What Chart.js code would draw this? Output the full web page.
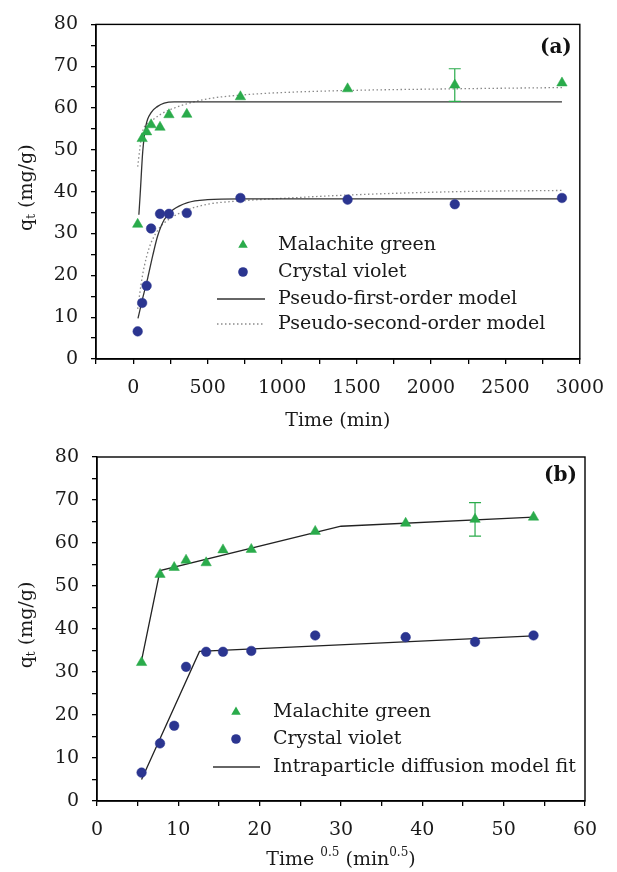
<!DOCTYPE html>
<html>
<head>
<meta charset="utf-8">
<script src="https://cdn.jsdelivr.net/npm/chart.js@4.4.1/dist/chart.umd.min.js"></script>
<style>
  html, body { margin: 0; padding: 0; background: #fff; }
  .wrap { position: absolute; left: 0; width: 617px; }
  #wrapA { top: 0; height: 430px; }
  #wrapB { top: 430px; height: 442px; }
</style>
</head>
<body>
<div class="wrap" id="wrapA"><canvas id="chartA"></canvas></div>
<div class="wrap" id="wrapB"><canvas id="chartB"></canvas></div>
<script>
const timeMin = [30, 60, 90, 120, 180, 240, 360, 720, 1440, 2160, 2880];
const timeSqrt = [5.48, 7.75, 9.49, 10.95, 13.42, 15.49, 18.97, 26.83, 37.95, 46.48, 53.67];
const mgQt = [32.2, 52.7, 54.3, 56.0, 55.4, 58.4, 58.5, 62.7, 64.6, 65.5, 66.0];
const cvQt = [6.6, 13.4, 17.5, 31.2, 34.7, 34.7, 34.9, 38.5, 38.1, 37.0, 38.5];
const mgErr = [0, 0, 0, 0, 0, 0, 0, 0, 0, 3.9, 0];

// model curves (a)
const pfoMgT = [38, 47, 64, 86, 120, 164, 208, 275, 400, 2880];
const pfoMgQ = [34.5, 39.5, 49.6, 55.9, 58.9, 60.4, 61.2, 61.5, 61.5, 61.5];
const psoMgT = [30, 60, 120, 180, 240, 360, 500, 720, 1000, 1440, 2160, 2880];
const psoMgQ = [46.0, 54.0, 56.8, 58.4, 59.5, 61.0, 62.2, 63.1, 63.7, 64.2, 64.6, 64.9];
const pfoCvT = [32, 64, 97, 131, 164, 208, 265, 365, 499, 722, 2880];
const pfoCvQ = [9.7, 14.6, 19.3, 24.7, 29.4, 33.3, 35.6, 37.4, 38.1, 38.3, 38.3];
const psoCvT = [30, 60, 90, 120, 180, 240, 360, 500, 720, 1000, 1440, 2160, 2880];
const psoCvQ = [12.0, 19.5, 24.5, 27.8, 31.5, 33.4, 35.6, 37.0, 37.8, 38.4, 39.2, 40.0, 40.3];

// intraparticle diffusion fit (b)
const ipdMgX = [5.48, 7.75, 30.0, 53.67];
const ipdMgY = [32.7, 53.6, 63.9, 66.0];
const ipdCvX = [5.48, 12.6, 53.67];
const ipdCvY = [5.0, 34.8, 38.4];

const yTicks = { min: 0, max: 80, step: 5, labelEvery: 10 };
const xTicksA = { min: -250, max: 3000, step: 250, labelEvery: 500 };
const xTicksB = { min: 0, max: 60, step: 5, labelEvery: 10 };

const FONT = '"DejaVu Serif", serif';
const GREEN = "#2aab4b";
const NAVY = "#2b3590";

function toXY(xs, ys) {
  return xs.map((x, i) => ({ x, y: ys[i] }));
}

function drawTri(ctx, x, y, r) {
  ctx.beginPath();
  ctx.moveTo(x, y - r);
  ctx.lineTo(x + r * 0.866, y + r * 0.5);
  ctx.lineTo(x - r * 0.866, y + r * 0.5);
  ctx.closePath();
  ctx.fill();
}

function drawSegments(ctx, segs, cx, cy) {
  let total = 0;
  segs.forEach((s) => {
    ctx.font = `${s.size}px ${FONT}`;
    s.w = ctx.measureText(s.t).width;
    total += s.w;
  });
  let x = cx - total / 2;
  ctx.textAlign = "left";
  ctx.textBaseline = "middle";
  segs.forEach((s) => {
    ctx.font = `${s.size}px ${FONT}`;
    ctx.fillText(s.t, x, cy + (s.dy || 0));
    x += s.w;
  });
}

const decor = {
  id: "decor",
  afterDatasetsDraw(chart, args, opts) {
    const ctx = chart.ctx;
    const a = chart.chartArea;
    const ys = chart.scales.y;
    ctx.save();

    // error bars
    if (opts.errDataset != null) {
      const meta = chart.getDatasetMeta(opts.errDataset);
      ctx.strokeStyle = GREEN;
      ctx.lineWidth = 1.2;
      mgErr.forEach((e, i) => {
        if (!e) return;
        const px = meta.data[i].x;
        const top = ys.getPixelForValue(mgQt[i] + e);
        const bot = ys.getPixelForValue(mgQt[i] - e);
        ctx.beginPath();
        ctx.moveTo(px, top); ctx.lineTo(px, bot);
        ctx.moveTo(px - 6, top); ctx.lineTo(px + 6, top);
        ctx.moveTo(px - 6, bot); ctx.lineTo(px + 6, bot);
        ctx.stroke();
      });
    }

    // frame
    ctx.strokeStyle = "#000";
    ctx.lineWidth = 1.4;
    ctx.strokeRect(a.left, a.top, a.right - a.left, a.bottom - a.top);

    // panel label
    ctx.fillStyle = "#111";
    ctx.font = `bold 20px ${FONT}`;
    ctx.textAlign = "right";
    ctx.textBaseline = "middle";
    ctx.fillText(opts.label, a.right - 8, a.top + opts.labelDy);

    // legend
    const lg = opts.legend;
    lg.items.forEach((it, i) => {
      const y = lg.rows[i];
      if (it.kind === "tri") {
        ctx.fillStyle = GREEN;
        drawTri(ctx, lg.markerX, y, 5.5);
      } else if (it.kind === "circ") {
        ctx.fillStyle = NAVY;
        ctx.beginPath();
        ctx.arc(lg.markerX, y, 4.8, 0, Math.PI * 2);
        ctx.fill();
      } else {
        ctx.strokeStyle = it.kind === "dot" ? "#8a8a8a" : "#333";
        ctx.lineWidth = 1.3;
        ctx.setLineDash(it.kind === "dot" ? [1.5, 2.5] : []);
        ctx.beginPath();
        ctx.moveTo(lg.lineX1, y);
        ctx.lineTo(lg.lineX2, y);
        ctx.stroke();
        ctx.setLineDash([]);
      }
      ctx.fillStyle = "#1a1a1a";
      ctx.font = `19px ${FONT}`;
      ctx.textAlign = "left";
      ctx.textBaseline = "middle";
      ctx.fillText(it.text, lg.textX, y);
    });

    // axis titles
    ctx.fillStyle = "#1a1a1a";
    drawSegments(ctx, opts.xTitle, (a.left + a.right) / 2, opts.xTitleY);
    ctx.save();
    ctx.translate(27, (a.top + a.bottom) / 2 - 4);
    ctx.rotate(-Math.PI / 2);
    drawSegments(ctx, [
      { t: "q", size: 19 },
      { t: "t", size: 12, dy: 5 },
      { t: " (mg/g)", size: 19 },
    ], 0, 0);
    ctx.restore();

    ctx.restore();
  },
};

function axis(t, extra) {
  return Object.assign({
    type: "linear",
    min: t.min,
    max: t.max,
    ticks: {
      stepSize: t.step,
      autoSkip: false,
      maxRotation: 0,
      padding: 13,
      color: "#1a1a1a",
      font: { family: FONT, size: 19 },
      callback: (v) => (v >= 0 && v % t.labelEvery === 0 ? v : ""),
    },
    grid: { drawOnChartArea: false, drawTicks: true, tickLength: 5, color: "#000", lineWidth: 1.3 },
    border: { display: true, color: "#000", width: 1.4 },
  }, extra);
}

function pointSet(data, color, style, radius) {
  return {
    data, showLine: false, pointStyle: style, pointRadius: radius,
    backgroundColor: color, borderColor: color, pointBorderWidth: 0.5, order: 1,
  };
}

function lineSet(data, color, dash, smooth) {
  return {
    data, showLine: true, pointRadius: 0, borderColor: color, borderWidth: 1.3,
    borderDash: dash, cubicInterpolationMode: smooth ? "monotone" : "default",
    tension: 0, fill: false, order: 2,
  };
}

function baseOptions(layout, xs, decorOpts) {
  return {
    responsive: true,
    maintainAspectRatio: false,
    animation: false,
    layout: { padding: layout.padding },
    scales: {
      x: axis(xs, { afterFit: (s) => { s.height = layout.xHeight; } }),
      y: axis(yTicks, { afterFit: (s) => { s.width = layout.yWidth; } }),
    },
    plugins: { legend: { display: false }, tooltip: { enabled: false }, decor: decorOpts },
  };
}

new Chart(document.getElementById("chartA"), {
  type: "scatter",
  data: {
    datasets: [
      lineSet(toXY(pfoMgT, pfoMgQ), "#333", [], true),
      lineSet(toXY(psoMgT, psoMgQ), "#8a8a8a", [1.5, 2.5], true),
      lineSet(toXY(pfoCvT, pfoCvQ), "#333", [], true),
      lineSet(toXY(psoCvT, psoCvQ), "#8a8a8a", [1.5, 2.5], true),
      pointSet(toXY(timeMin, mgQt), GREEN, "triangle", 6),
      pointSet(toXY(timeMin, cvQt), NAVY, "circle", 4.8),
    ],
  },
  options: baseOptions(
    { padding: { top: 17, right: 36, left: 0, bottom: 0 }, xHeight: 71, yWidth: 96 },
    xTicksA,
    {
      label: "(a)",
      labelDy: 23,
      errDataset: 4,
      xTitle: [{ t: "Time (min)", size: 19 }],
      xTitleY: 421,
      legend: {
        markerX: 243, lineX1: 217, lineX2: 265, textX: 278,
        rows: [245, 272, 299, 324],
        items: [
          { kind: "tri", text: "Malachite green" },
          { kind: "circ", text: "Crystal violet" },
          { kind: "line", text: "Pseudo-first-order model" },
          { kind: "dot", text: "Pseudo-second-order model" },
        ],
      },
    }
  ),
  plugins: [decor],
});

new Chart(document.getElementById("chartB"), {
  type: "scatter",
  data: {
    datasets: [
      lineSet(toXY(ipdMgX, ipdMgY), "#222", [], false),
      lineSet(toXY(ipdCvX, ipdCvY), "#222", [], false),
      pointSet(toXY(timeSqrt, mgQt), GREEN, "triangle", 6),
      pointSet(toXY(timeSqrt, cvQt), NAVY, "circle", 4.8),
    ],
  },
  options: baseOptions(
    { padding: { top: 27, right: 32, left: 0, bottom: 0 }, xHeight: 71, yWidth: 97 },
    xTicksB,
    {
      label: "(b)",
      labelDy: 19,
      errDataset: 2,
      xTitle: [
        { t: "Time ", size: 19 },
        { t: "0.5", size: 12, dy: -7 },
        { t: " (min", size: 19 },
        { t: "0.5", size: 12, dy: -7 },
        { t: ")", size: 19 },
      ],
      xTitleY: 430,
      legend: {
        markerX: 236, lineX1: 213, lineX2: 260, textX: 273,
        rows: [282, 309, 337],
        items: [
          { kind: "tri", text: "Malachite green" },
          { kind: "circ", text: "Crystal violet" },
          { kind: "line", text: "Intraparticle diffusion model fit" },
        ],
      },
    }
  ),
  plugins: [decor],
});
</script>
</body>
</html>
